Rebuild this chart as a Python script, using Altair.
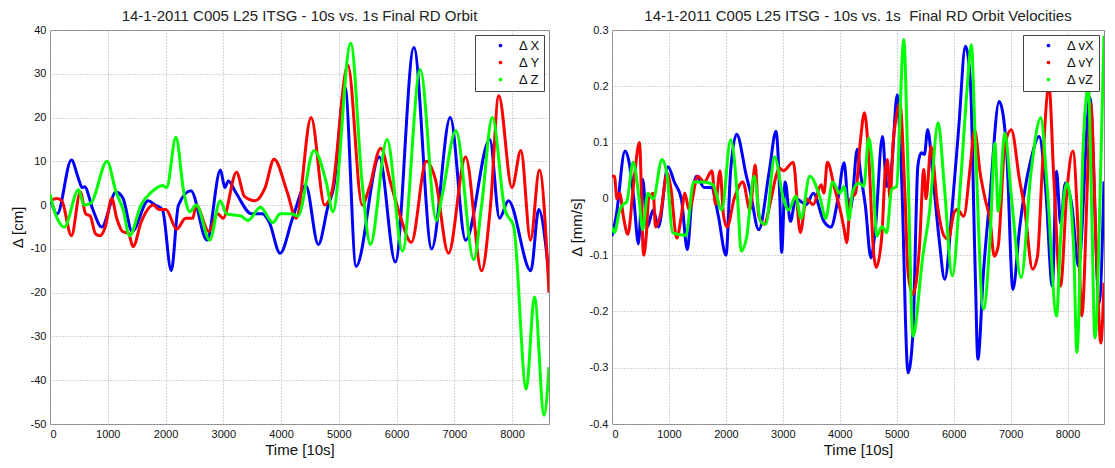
import altair as alt
import pandas as pd

# ---------------- Left panel: position differences [cm] ----------------
x_t = [0, 124, 371, 494, 556, 599, 741, 896, 1143, 1266, 1421, 1699, 1822, 1946, 2100, 2224,
       2440, 2718, 2952, 3027, 3088, 3212, 3490, 3675, 3799, 3984, 4200, 4429, 4645, 4818, 4910,
       5108, 5300, 5701, 5979, 6300, 6609, 6930, 7196, 7616, 7783, 7937, 8326, 8462, 8640]
x_v = [2, -2, 10.3, 6, 4, 4.2, -1, -5, 3, 1.5, -6, 1, 0, -1, -15, 0,
       3.3, -8, 8, 4, 5.5, 3, -2, -2, -4, -11, -3, 4.5, -9, 0, 4,
       27, -14, 11, -13, 36, -10, 20, -8, 15, -3, 1, -15, -1, -16]

y_t = [0, 124, 204, 371, 525, 618, 698, 784, 865, 957, 1069, 1155, 1254, 1359, 1439, 1575,
       1791, 1884, 2007, 2193, 2347, 2471, 2532, 2749, 2903, 2996, 3230, 3366, 3552, 3725, 3879,
       4107, 4262, 4521, 4756, 4880, 5157, 5405, 5528, 5726, 5899, 6053, 6257, 6516, 6671, 6899,
       7196, 7474, 7628, 7770, 7999, 8153, 8320, 8474, 8640]
y_v = [1, 1.5, 1, -7, 3, -2, -2.5, -6.5, -7, -5, 1.5, -3, -6, -6.5, -9.5, -4,
       0, -1, -1, -5.5, -3, -3, 0, -6, -2, -3, 7.5, 2, 1, 4, 10.5,
       3, -3, 20, 0, 3, 32, 0, 4, 13, 5, -2, -8.5, 10, 6, -11,
       11, -15, 0, 25, 4, 12.5, -8, 8, -20]

z_t = [0, 93, 247, 494, 587, 710, 988, 1143, 1266, 1377, 1575, 1760, 1946, 2020, 2180, 2316,
       2421, 2532, 2767, 2946, 3057, 3305, 3428, 3644, 3860, 3984, 4169, 4293, 4571, 4787, 4898,
       5207, 5405, 5547, 5837, 6103, 6411, 6689, 6794, 7029, 7338, 7474, 7659, 7875, 8030, 8246,
       8388, 8555, 8640]
z_v = [2.5, -2, -5, 3.5, 0, 0.5, 10, 3, -1, -7, 0, 3, 4.5, 4, 15.5, 3,
       -1.5, 0, -8, 1, -2, -2.5, -3.5, -0.5, -4, -2, -2, -2.5, 12.5, 5, -1.5,
       37, 5, -9, 15, -10.5, 31, -3.5, 2.5, 17, -12.5, 0, 20, -1, -5, -42,
       -21, -48, -37]

# ---------------- Right panel: velocity differences [mm/s] ----------------
vx_t = [0, 74, 229, 290, 383, 464, 538, 618, 723, 816, 983, 1094, 1218, 1323, 1403, 1483,
        1619, 1743, 1867, 2002, 2083, 2188, 2361, 2423, 2577, 2763, 2880, 2948, 2979, 3041,
        3134, 3226, 3412, 3535, 3721, 3844, 3968, 4076, 4162, 4220, 4306, 4364, 4450, 4548,
        4623, 4750, 4824, 4911, 5009, 5083, 5199, 5285, 5371, 5429, 5486, 5544, 5630, 5745,
        5843, 5976, 6091, 6206, 6292, 6379, 6425, 6523, 6638, 6799, 6926, 7041, 7156, 7242,
        7357, 7501, 7617, 7732, 7807, 7876, 7962, 8077, 8192, 8394, 8555, 8640]
vx_v = [-0.066, -0.03, 0.085, 0.07, 0.0, -0.08, 0.035, -0.05, -0.02, -0.05, 0.057, 0.03, 0.0,
        -0.09, 0.0, 0.04, 0.02, 0.02, -0.03, -0.1, 0.05, 0.115, 0.04, 0.015, -0.055, 0.05,
        0.12, 0.0, -0.095, 0.03, -0.04, 0.0, -0.01, 0.01, -0.04, -0.05, 0.0, 0.064, -0.025,
        0.0, 0.088, 0.046, -0.013, -0.105, -0.054, 0.111, 0.022, 0.058, 0.185, 0.046, -0.309,
        -0.238, 0.058, 0.082, 0.079, 0.123, 0.046, -0.072, -0.143, -0.013, 0.129, 0.271, 0.212,
        -0.131, -0.285, -0.131, 0.005, 0.173, 0.093, -0.161, -0.054, 0.011, 0.07, 0.111,
        0.017, -0.155, 0.049, -0.043, 0.028, -0.013, -0.12, 0.18, -0.185, 0.031]

vy_t = [0, 43, 87, 136, 198, 278, 383, 482, 556, 606, 643, 723, 766, 847, 970, 1032, 1137,
        1218, 1279, 1354, 1508, 1619, 1755, 1817, 1897, 1959, 2021, 2145, 2299, 2423, 2515,
        2577, 2670, 2794, 2868, 2936, 3010, 3183, 3307, 3412, 3535, 3671, 3721, 3782, 3906,
        4030, 4076, 4122, 4191, 4277, 4364, 4433, 4508, 4594, 4640, 4738, 4796, 4836, 4882,
        4940, 4986, 5055, 5141, 5199, 5285, 5400, 5475, 5515, 5602, 5717, 5832, 5907, 6005,
        6062, 6177, 6292, 6367, 6465, 6552, 6638, 6713, 6782, 6897, 7012, 7156, 7242, 7386,
        7472, 7559, 7674, 7760, 7876, 7991, 8094, 8192, 8250, 8365, 8406, 8509, 8584, 8640]
vy_v = [0.04, 0.04, 0.0, 0.01, -0.03, -0.063, 0.03, 0.1, -0.1, -0.06, 0.0, 0.01, -0.05,
        -0.03, 0.045, 0.02, -0.07, -0.03, 0.01, -0.02, 0.04, 0.03, 0.05, -0.01, 0.05, -0.03,
        -0.05, 0.0, 0.03, -0.02, 0.06, -0.03, -0.045, 0.0, 0.035, 0.055, 0.05, 0.065, -0.06,
        0.0, -0.01, 0.025, 0.01, 0.065, 0.02, -0.03, -0.054, -0.078, 0.0, 0.01, 0.105, 0.153,
        0.076, -0.096, -0.122, -0.066, 0.046, 0.07, 0.0, 0.105, 0.141, 0.17, 0.017, -0.131,
        -0.17, -0.084, 0.052, 0.0, 0.093, -0.013, -0.066, -0.072, -0.025, -0.019, -0.031,
        0.058, 0.123, 0.046, 0.0, -0.037, -0.102, -0.084, 0.093, 0.123, 0.034, -0.013, -0.125,
        -0.102, 0.058, 0.2, 0.034, -0.155, 0.017, 0.085, -0.072, -0.208, 0.076, 0.17, -0.102,
        -0.256, -0.149]

vz_t = [0, 43, 136, 198, 260, 371, 476, 538, 630, 723, 878, 970, 1063, 1298, 1434, 1619,
        1774, 1928, 2083, 2206, 2268, 2361, 2497, 2608, 2701, 2855, 3010, 3103, 3226, 3319,
        3473, 3659, 3752, 3875, 4000, 4076, 4162, 4220, 4335, 4421, 4508, 4565, 4652, 4738,
        4824, 4911, 4997, 5124, 5199, 5285, 5458, 5573, 5728, 5832, 5976, 6120, 6235, 6310,
        6379, 6523, 6638, 6724, 6782, 6897, 7012, 7185, 7357, 7530, 7645, 7807, 7876, 7991,
        8106, 8164, 8279, 8365, 8423, 8480, 8595, 8640]
vz_v = [-0.05, -0.06, -0.02, -0.01, -0.005, 0.065, 0.0, -0.055, 0.01, 0.0, 0.07, 0.04,
        -0.06, -0.065, 0.03, 0.03, 0.025, -0.02, 0.105, 0.0, -0.093, -0.07, 0.04, -0.04,
        -0.045, 0.075, 0.0, -0.02, 0.005, -0.035, 0.04, 0.0, -0.035, 0.03, 0.01, 0.022,
        -0.037, 0.011, 0.028, 0.022, 0.108, 0.07, -0.066, -0.049, -0.06, 0.017, 0.022, 0.283,
        0.046, -0.244, -0.102, -0.025, 0.135, 0.028, -0.137, 0.028, 0.194, 0.274, 0.105,
        -0.196, -0.072, 0.099, -0.022, 0.117, 0.005, -0.14, 0.046, 0.144, 0.017, -0.208,
        -0.072, 0.028, -0.084, -0.273, 0.105, 0.2, -0.013, -0.247, 0.105, 0.29]

left_names = ["\u0394 X", "\u0394 Y", "\u0394 Z"]
right_names = ["\u0394 vX", "\u0394 vY", "\u0394 vZ"]
colors = ["#0000ff", "#ff0000", "#00ff00"]

x_ticks = [0, 1000, 2000, 3000, 4000, 5000, 6000, 7000, 8000]
left_y_ticks = [-50, -40, -30, -20, -10, 0, 10, 20, 30, 40]
right_y_ticks = [-0.4, -0.3, -0.2, -0.1, 0, 0.1, 0.2, 0.3]


def frame(names, series):
    rows = []
    for order, (name, (ts, vs)) in enumerate(zip(names, series)):
        for t, v in zip(ts, vs):
            rows.append({"t": t, "v": v, "s": name, "o": order})
    return pd.DataFrame(rows)


left_df = frame(left_names, [(x_t, x_v), (y_t, y_v), (z_t, z_v)])
right_df = frame(right_names, [(vx_t, vx_v), (vy_t, vy_v), (vz_t, vz_v)])

FONT = "Liberation Sans"


def panel(df, names, title, ylab, ydom, yticks, w):
    return (
        alt.Chart(df, title=alt.Title(title, fontSize=15, fontWeight="normal", font=FONT,
                                      color="#222222", offset=0))
        .mark_line(strokeWidth=3, interpolate="monotone", clip=True)
        .encode(
            x=alt.X("t:Q", scale=alt.Scale(domain=[0, 8640], nice=False, zero=False),
                    axis=alt.Axis(values=x_ticks, title="Time [10s]", labelExpr="toString(datum.value)")),
            y=alt.Y("v:Q", scale=alt.Scale(domain=ydom, nice=False, zero=False),
                    axis=alt.Axis(values=yticks, title=ylab, labelExpr="toString(datum.value)")),
            color=alt.Color("s:N", sort=names,
                            scale=alt.Scale(domain=names, range=colors),
                            legend=alt.Legend(title=None, orient="top-right", offset=5,
                                              symbolType="circle", symbolSize=3,
                                              symbolStrokeWidth=2, symbolOffset=15,
                                              labelOffset=12, labelFontSize=13, labelFont=FONT,
                                              labelColor="#111111",
                                              fillColor="white", strokeColor="#444444",
                                              padding=4, rowPadding=3)),
            order=alt.Order("o:Q"),
            detail="s:N",
        )
        .properties(width=w, height=394)
    )


left = panel(left_df, left_names, "14-1-2011 C005 L25 ITSG - 10s vs. 1s Final RD Orbit",
             "\u0394 [cm]", [-50, 40], left_y_ticks, 499)
right = panel(right_df, right_names,
              "14-1-2011 C005 L25 ITSG - 10s vs. 1s\u00a0 Final RD Orbit Velocities",
              "\u0394 [mm/s]", [-0.4, 0.3], right_y_ticks, 492)

chart = (
    alt.hconcat(left, right, spacing=18)
    .resolve_scale(color="independent")
    .properties(padding={"left": 1, "top": 0, "right": 0, "bottom": 0})
    .configure_view(stroke="#888888", strokeWidth=1)
    .configure_axis(
        grid=True, gridColor="#aaaaaa", gridDash=[1, 2], gridWidth=1,
        domain=False, ticks=False,
        labelFont=FONT, labelFontSize=11, labelColor="#111111", labelPadding=4,
        titleFont=FONT, titleFontSize=15, titleFontWeight="normal", titleColor="#111111",
    )
    .configure_axisY(titlePadding=5)
    .configure_axisX(titlePadding=3)
)

chart.save("out.html", embed_options={"renderer": "svg", "actions": False})
